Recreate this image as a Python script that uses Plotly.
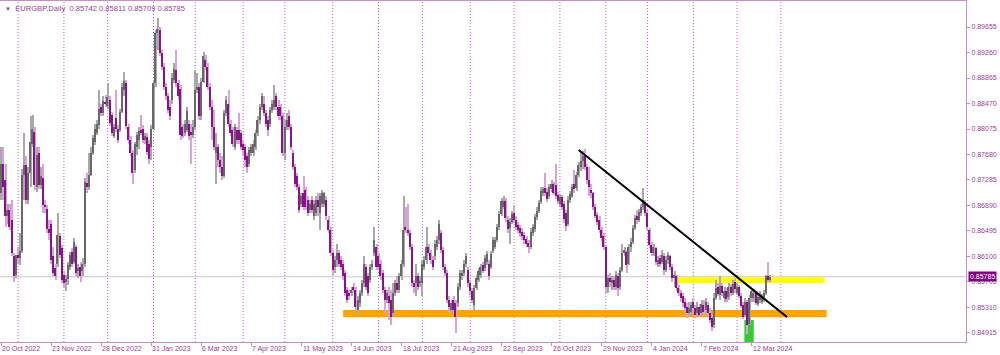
import pandas as pd
import plotly.graph_objects as go

SYMBOL = "EURGBP,Daily"
FIRST_DATE = "2022-10-20"
HOLIDAYS = ["2022-12-26", "2023-12-25", "2024-01-01"]

OPEN = [
.8708,.8754,.8729,.8672,.8682,.8667,.8610,.8582,.8612,.8607,
.8619,.8736,.8752,.8698,.8739,.8785,.8803,.8718,.8770,.8721,
.8731,.8690,.8684,.8652,.8661,.8610,.8592,.8599,.8641,.8623,
.8582,.8570,.8575,.8594,.8617,.8602,.8625,.8587,.8594,.8587,
.8599,.8724,.8718,.8736,.8770,.8788,.8801,.8813,.8841,.8832,
.8850,.8843,.8853,.8829,.8797,.8825,.8808,.8806,.8834,.8868,
.8879,.8811,.8790,.8770,.8744,.8780,.8790,.8806,.8808,.8791,
.8795,.8785,.8780,.8808,.8878,.8956,.8961,.8925,.8904,.8873,
.8858,.8842,.8852,.8883,.8899,.8878,.8870,.8811,.8801,.8806,
.8816,.8803,.8798,.8811,.8868,.8873,.8827,.8880,.8914,.8904,
.8873,.8842,.8811,.8770,.8780,.8760,.8749,.8734,.8832,.8847,
.8816,.8806,.8780,.8806,.8806,.8801,.8785,.8780,.8765,.8754,
.8770,.8770,.8780,.8801,.8821,.8842,.8847,.8832,.8821,.8816,
.8837,.8842,.8858,.8842,.8842,.8827,.8770,.8811,.8827,.8811,
.8770,.8749,.8734,.8718,.8692,.8708,.8713,.8698,.8682,.8698,
.8672,.8677,.8698,.8677,.8692,.8692,.8698,.8667,.8651,.8615,
.8594,.8605,.8615,.8605,.8599,.8584,.8558,.8553,.8553,.8563,
.8558,.8527,.8538,.8553,.8569,.8594,.8579,.8574,.8594,.8615,
.8625,.8610,.8599,.8584,.8558,.8543,.8548,.8543,.8522,.8553,
.8569,.8558,.8579,.8599,.8656,.8651,.8646,.8625,.8569,.8569,
.8579,.8569,.8569,.8594,.8605,.8625,.8615,.8605,.8610,.8625,
.8636,.8646,.8620,.8594,.8584,.8543,.8527,.8543,.8538,.8538,
.8563,.8579,.8584,.8599,.8589,.8569,.8556,.8535,.8561,.8574,
.8582,.8597,.8592,.8602,.8599,.8594,.8619,.8625,.8636,.8655,
.8676,.8687,.8696,.8667,.8654,.8664,.8677,.8667,.8659,.8654,
.8648,.8643,.8637,.8631,.8625,.8646,.8652,.8671,.8681,.8695,
.8709,.8716,.8710,.8703,.8714,.8722,.8721,.8705,.8691,.8702,
.8691,.8677,.8660,.8698,.8704,.8723,.8716,.8736,.8749,.8758,
.8765,.8749,.8729,.8713,.8708,.8687,.8674,.8667,.8651,.8641,
.8625,.8563,.8576,.8569,.8574,.8563,.8579,.8563,.8589,.8615,
.8617,.8599,.8625,.8633,.8654,.8672,.8667,.8677,.8687,.8695,
.8677,.8651,.8628,.8615,.8623,.8599,.8607,.8602,.8610,.8589,
.8605,.8610,.8594,.8576,.8579,.8561,.8553,.8548,.8540,.8532,
.8522,.8524,.8540,.8530,.8522,.8532,.8522,.8535,.8527,.8535,
.8522,.8514,.8504,.8545,.8562,.8550,.8564,.8545,.8557,.8547,
.8563,.8554,.8571,.8554,.8562,.8549,.8535,.8519,.8540,.8506,
.8545,.8545,.8553,.8537,.8543,.8540,.8543,.8553,.8579,.85742]

HIGH = [
.8780,.8780,.8754,.8692,.8692,.8698,.8615,.8612,.8625,.8646,
.8746,.8801,.8765,.8749,.8827,.8829,.8811,.8780,.8780,.8749,
.8754,.8698,.8690,.8667,.8667,.8625,.8599,.8677,.8646,.8628,
.8587,.8582,.8602,.8617,.8623,.8638,.8628,.8599,.8602,.8607,
.8731,.8739,.8770,.8780,.8798,.8816,.8821,.8868,.8847,.8858,
.8860,.8878,.8858,.8834,.8815,.8868,.8813,.8839,.8878,.8896,
.8883,.8816,.8796,.8775,.8788,.8803,.8811,.8829,.8813,.8801,
.8801,.8790,.8813,.8883,.8961,.8979,.8966,.8930,.8909,.8878,
.8863,.8852,.8894,.8909,.8930,.8883,.8875,.8816,.8821,.8842,
.8821,.8816,.8821,.8899,.8894,.8878,.8886,.8927,.8922,.8909,
.8878,.8852,.8837,.8801,.8785,.8770,.8765,.8837,.8858,.8868,
.8821,.8811,.8816,.8811,.8832,.8806,.8790,.8785,.8770,.8780,
.8785,.8790,.8806,.8827,.8847,.8863,.8858,.8837,.8827,.8842,
.8852,.8876,.8863,.8852,.8847,.8832,.8821,.8832,.8837,.8816,
.8775,.8754,.8739,.8723,.8708,.8734,.8718,.8703,.8698,.8703,
.8698,.8703,.8708,.8708,.8713,.8710,.8703,.8672,.8656,.8620,
.8610,.8630,.8620,.8610,.8605,.8589,.8563,.8558,.8563,.8569,
.8563,.8548,.8558,.8574,.8610,.8599,.8584,.8599,.8605,.8656,
.8630,.8615,.8605,.8589,.8563,.8558,.8563,.8558,.8569,.8574,
.8579,.8584,.8605,.8703,.8687,.8692,.8651,.8630,.8574,.8599,
.8584,.8579,.8605,.8610,.8656,.8630,.8620,.8610,.8636,.8641,
.8667,.8651,.8625,.8599,.8589,.8548,.8543,.8548,.8543,.8569,
.8589,.8589,.8605,.8615,.8594,.8574,.8561,.8566,.8582,.8592,
.8599,.8602,.8612,.8619,.8605,.8619,.8640,.8640,.8660,.8681,
.8700,.8704,.8700,.8672,.8669,.8681,.8690,.8672,.8664,.8659,
.8654,.8648,.8641,.8636,.8654,.8660,.8676,.8687,.8698,.8717,
.8718,.8739,.8716,.8722,.8729,.8726,.8754,.8710,.8707,.8705,
.8696,.8682,.8703,.8712,.8722,.8744,.8741,.8757,.8772,.8774,
.8776,.8754,.8749,.8723,.8710,.8692,.8679,.8672,.8656,.8646,
.8628,.8581,.8584,.8579,.8579,.8587,.8584,.8594,.8630,.8625,
.8620,.8630,.8638,.8659,.8674,.8682,.8684,.8692,.8716,.8698,
.8682,.8654,.8633,.8630,.8625,.8610,.8612,.8620,.8615,.8610,
.8617,.8612,.8599,.8587,.8581,.8566,.8558,.8553,.8545,.8538,
.8540,.8540,.8545,.8535,.8540,.8536,.8543,.8543,.8545,.8540,
.8530,.8519,.8553,.8574,.8569,.8579,.8569,.8563,.8561,.8569,
.8567,.8574,.8576,.8569,.8566,.8553,.8540,.8545,.8543,.8550,
.8561,.8559,.8557,.8552,.8556,.8552,.8558,.8581,.8601,.85811]

LOW = [
.8698,.8698,.8656,.8661,.8651,.8610,.8571,.8576,.8599,.8597,
.8615,.8698,.8691,.8692,.8718,.8780,.8713,.8710,.8715,.8715,
.8677,.8677,.8647,.8636,.8599,.8579,.8574,.8594,.8607,.8569,
.8561,.8556,.8566,.8589,.8594,.8599,.8579,.8576,.8571,.8579,
.8594,.8708,.8713,.8734,.8767,.8783,.8798,.8808,.8827,.8828,
.8842,.8839,.8812,.8797,.8793,.8803,.8786,.8803,.8832,.8858,
.8808,.8785,.8766,.8723,.8739,.8767,.8777,.8798,.8786,.8785,
.8767,.8753,.8760,.8806,.8873,.8930,.8920,.8899,.8868,.8852,
.8832,.8821,.8847,.8878,.8873,.8852,.8790,.8793,.8796,.8803,
.8790,.8754,.8793,.8806,.8863,.8821,.8821,.8878,.8899,.8868,
.8837,.8790,.8775,.8723,.8749,.8739,.8729,.8731,.8827,.8811,
.8796,.8780,.8775,.8785,.8785,.8775,.8765,.8749,.8739,.8749,
.8765,.8765,.8775,.8796,.8816,.8837,.8827,.8811,.8796,.8811,
.8832,.8837,.8837,.8821,.8821,.8765,.8760,.8806,.8806,.8775,
.8744,.8718,.8713,.8677,.8687,.8682,.8682,.8672,.8677,.8677,
.8667,.8672,.8672,.8651,.8687,.8687,.8667,.8646,.8610,.8579,
.8584,.8594,.8594,.8589,.8574,.8548,.8538,.8543,.8548,.8553,
.8527,.8519,.8532,.8548,.8563,.8558,.8548,.8569,.8589,.8610,
.8589,.8589,.8574,.8553,.8522,.8538,.8512,.8504,.8517,.8548,
.8553,.8553,.8574,.8594,.8646,.8641,.8620,.8563,.8553,.8548,
.8558,.8563,.8548,.8589,.8599,.8610,.8599,.8589,.8605,.8620,
.8630,.8615,.8589,.8579,.8538,.8524,.8522,.8522,.8491,.8532,
.8558,.8574,.8579,.8594,.8563,.8550,.8538,.8527,.8558,.8570,
.8576,.8584,.8588,.8597,.8573,.8590,.8615,.8621,.8632,.8651,
.8672,.8683,.8664,.8647,.8630,.8661,.8662,.8651,.8646,.8640,
.8636,.8630,.8625,.8615,.8621,.8642,.8648,.8667,.8677,.8692,
.8704,.8703,.8694,.8699,.8710,.8705,.8699,.8691,.8687,.8682,
.8662,.8650,.8657,.8693,.8700,.8709,.8712,.8733,.8743,.8746,
.8744,.8723,.8703,.8700,.8682,.8669,.8659,.8646,.8633,.8620,
.8553,.8553,.8563,.8558,.8558,.8558,.8548,.8558,.8586,.8610,
.8584,.8597,.8617,.8630,.8651,.8661,.8664,.8672,.8682,.8672,
.8651,.8623,.8610,.8610,.8597,.8594,.8594,.8599,.8581,.8586,
.8599,.8589,.8571,.8563,.8556,.8548,.8540,.8532,.8524,.8514,
.8518,.8519,.8524,.8514,.8518,.8516,.8519,.8519,.8522,.8517,
.8507,.8495,.8499,.8543,.8548,.8543,.8548,.8540,.8540,.8543,
.8549,.8550,.8554,.8550,.8545,.8530,.8513,.8517,.8490,.8504,
.8540,.8540,.8535,.8533,.8538,.8537,.8540,.8550,.8571,.85709]

CLOSE = [
.8754,.8718,.8672,.8682,.8656,.8615,.8579,.8612,.8607,.8619,
.8736,.8752,.8698,.8739,.8788,.8808,.8721,.8767,.8721,.8735,
.8690,.8686,.8652,.8646,.8605,.8584,.8579,.8643,.8612,.8574,
.8569,.8575,.8597,.8612,.8599,.8633,.8585,.8592,.8579,.8599,
.8726,.8718,.8736,.8770,.8793,.8808,.8815,.8839,.8832,.8851,
.8847,.8857,.8817,.8802,.8810,.8807,.8791,.8834,.8872,.8882,
.8812,.8790,.8770,.8740,.8784,.8798,.8805,.8802,.8791,.8796,
.8772,.8761,.8808,.8878,.8956,.8963,.8925,.8904,.8873,.8858,
.8837,.8827,.8886,.8901,.8878,.8858,.8798,.8796,.8815,.8836,
.8796,.8798,.8811,.8868,.8873,.8827,.8880,.8920,.8904,.8873,
.8842,.8811,.8780,.8780,.8760,.8749,.8734,.8832,.8852,.8816,
.8801,.8785,.8811,.8790,.8790,.8780,.8775,.8760,.8749,.8775,
.8780,.8785,.8801,.8821,.8842,.8858,.8832,.8816,.8806,.8837,
.8847,.8852,.8842,.8827,.8827,.8770,.8811,.8821,.8811,.8780,
.8749,.8723,.8718,.8682,.8703,.8687,.8687,.8677,.8692,.8682,
.8692,.8698,.8687,.8703,.8708,.8708,.8672,.8651,.8615,.8589,
.8605,.8615,.8599,.8594,.8579,.8553,.8543,.8548,.8558,.8558,
.8532,.8543,.8553,.8569,.8599,.8563,.8553,.8594,.8599,.8636,
.8594,.8594,.8579,.8558,.8543,.8553,.8538,.8517,.8553,.8569,
.8558,.8579,.8599,.8651,.8651,.8646,.8625,.8569,.8563,.8579,
.8563,.8571,.8599,.8605,.8625,.8615,.8605,.8594,.8630,.8636,
.8661,.8620,.8594,.8584,.8543,.8532,.8538,.8527,.8517,.8563,
.8584,.8584,.8599,.8610,.8569,.8556,.8543,.8561,.8576,.8587,
.8594,.8588,.8607,.8614,.8580,.8614,.8635,.8635,.8655,.8676,
.8696,.8696,.8669,.8652,.8664,.8676,.8667,.8656,.8651,.8646,
.8641,.8636,.8630,.8624,.8648,.8655,.8671,.8681,.8693,.8712,
.8714,.8708,.8699,.8717,.8723,.8709,.8704,.8696,.8702,.8687,
.8668,.8657,.8698,.8707,.8717,.8714,.8736,.8752,.8758,.8765,
.8749,.8729,.8718,.8708,.8687,.8672,.8664,.8651,.8638,.8625,
.8563,.8576,.8571,.8574,.8563,.8581,.8561,.8589,.8615,.8620,
.8597,.8625,.8633,.8654,.8669,.8667,.8679,.8686,.8698,.8677,
.8656,.8628,.8615,.8624,.8602,.8605,.8599,.8612,.8589,.8605,
.8612,.8594,.8576,.8581,.8561,.8553,.8545,.8538,.8530,.8522,
.8530,.8535,.8530,.8519,.8532,.8519,.8536,.8524,.8540,.8522,
.8512,.8501,.8545,.8561,.8552,.8564,.8553,.8557,.8544,.8562,
.8554,.8567,.8559,.8562,.8549,.8533,.8517,.8540,.8504,.8545,
.8556,.8553,.8538,.8547,.8551,.8547,.8553,.8579,.8574,.85785]

PRICE_TICKS = [0.84915, 0.85310, 0.85705, 0.86100, 0.86495, 0.86890, 0.87285,
               0.87680, 0.88075, 0.88470, 0.88865, 0.89260, 0.89655]
LAST_PRICE = 0.85785
DATE_LABEL_STEP = 24

SUPPORT_ZONE = {"start": "2023-06-08", "end": "2024-05-01", "low": 0.85158, "high": 0.85271}
RESIST_ZONE = {"start": "2024-01-22", "end": "2024-04-30", "low": 0.85685, "high": 0.85778}
SPIKE_BOX = {"start": "2024-03-06", "end": "2024-03-13", "high": 0.85116}
TRENDLINE = {"start": ("2023-11-14", 0.8775), "end": ("2024-04-04", 0.8516)}

# ---------------------------------------------------------------- styling
TXT = "#993d99"
AXIS = "#c98fc9"
GRID = "#c660c6"
UP_BODY, UP_WICK = "#686868", "#a9a9a9"
DN_BODY, DN_WICK = "#8a128a", "#d8a4d8"
FONT = "Liberation Sans, Arial, sans-serif"
Y_MIN, Y_MAX = 0.84775, 0.90058
X_MIN, X_MAX = -0.67, 462.85
MIN_BODY = 0.00008

n = len(CLOSE)
hol = set(pd.to_datetime(HOLIDAYS))
calendar = [d for d in pd.bdate_range(FIRST_DATE, "2024-12-31") if d not in hol]
pos = {d: i for i, d in enumerate(calendar)}


def xi(s):
    return pos[pd.Timestamp(s)]


dates = calendar[:n]
xs = list(range(n))

fig = go.Figure()

for is_up, body_c, wick_c in ((True, UP_BODY, UP_WICK), (False, DN_BODY, DN_WICK)):
    sel = [i for i in xs if (CLOSE[i] >= OPEN[i]) == is_up]
    fig.add_trace(go.Bar(
        x=sel, base=[LOW[i] for i in sel], y=[HIGH[i] - LOW[i] for i in sel],
        width=0.5, marker=dict(color=wick_c, line=dict(width=0)),
        hoverinfo="skip", showlegend=False))
for is_up, body_c, wick_c in ((True, UP_BODY, UP_WICK), (False, DN_BODY, DN_WICK)):
    sel = [i for i in xs if (CLOSE[i] >= OPEN[i]) == is_up]
    fig.add_trace(go.Bar(
        x=sel, base=[min(OPEN[i], CLOSE[i]) for i in sel],
        y=[max(abs(CLOSE[i] - OPEN[i]), MIN_BODY) for i in sel],
        width=0.72, marker=dict(color=body_c, line=dict(width=0)),
        hoverinfo="skip", showlegend=False))

# trendline
fig.add_trace(go.Scatter(
    x=[xi(TRENDLINE["start"][0]), xi(TRENDLINE["end"][0])],
    y=[TRENDLINE["start"][1], TRENDLINE["end"][1]],
    mode="lines", line=dict(color="black", width=2),
    hoverinfo="skip", showlegend=False))

shapes = []
# month separators
for i in range(1, len(calendar)):
    if calendar[i].month != calendar[i - 1].month and i <= n + 8:
        shapes.append(dict(type="line", xref="x", yref="paper", x0=i, x1=i, y0=0, y1=1,
                           line=dict(color=GRID, width=1, dash="1px,2px"), layer="below"))
# zones
shapes.append(dict(type="rect", xref="x", yref="y",
                   x0=xi(SUPPORT_ZONE["start"]), x1=xi(SUPPORT_ZONE["end"]),
                   y0=SUPPORT_ZONE["low"], y1=SUPPORT_ZONE["high"],
                   fillcolor="#ffa500", line=dict(width=0), layer="below"))
shapes.append(dict(type="rect", xref="x", yref="y",
                   x0=xi(RESIST_ZONE["start"]), x1=xi(RESIST_ZONE["end"]),
                   y0=RESIST_ZONE["low"], y1=RESIST_ZONE["high"],
                   fillcolor="#ffff00", line=dict(width=0), layer="below"))
shapes.append(dict(type="rect", xref="x", yref="y",
                   x0=xi(SPIKE_BOX["start"]) + 0.5, x1=xi(SPIKE_BOX["end"]),
                   y0=Y_MIN, y1=SPIKE_BOX["high"],
                   fillcolor="#33cc33", line=dict(width=0), layer="below"))
# last price line
shapes.append(dict(type="line", xref="paper", yref="y", x0=0, x1=1,
                   y0=LAST_PRICE, y1=LAST_PRICE,
                   line=dict(color="#c8c8c8", width=1), layer="below"))

annotations = []
label_idx = list(range(0, n, DATE_LABEL_STEP))
for i in label_idx:
    d = dates[i]
    annotations.append(dict(
        x=i, y=0, xref="x", yref="paper", xanchor="left", yanchor="top",
        yshift=-1, xshift=-1, showarrow=False,
        text=f"{d.day} {d.strftime('%b %Y')}", font=dict(size=7, color=TXT, family=FONT)))

annotations.append(dict(
    x=1, y=LAST_PRICE, xref="paper", yref="y", xanchor="left", yanchor="middle",
    xshift=2, showarrow=False, text=f"{LAST_PRICE:.5f}", bgcolor="#800080",
    borderpad=1, font=dict(size=7, color="white", family=FONT)))

header = (f"<span style='font-size:6px'>\u25bc</span>\u00a0\u00a0{SYMBOL}\u00a0\u00a0"
          f"{OPEN[-1]:.5f} {HIGH[-1]:.5f} {LOW[-1]:.5f} {CLOSE[-1]:.5f}")
annotations.append(dict(
    x=0, y=1, xref="paper", yref="paper", xanchor="left", yanchor="top",
    xshift=3, yshift=-1, showarrow=False, text=header,
    font=dict(size=7.6, color=TXT, family=FONT)))

fig.update_layout(
    width=1000, height=355, autosize=False,
    margin=dict(l=0, r=34, t=1, b=13),
    paper_bgcolor="white", plot_bgcolor="white",
    barmode="overlay", bargap=0, hovermode=False,
    shapes=shapes, annotations=annotations,
    xaxis=dict(range=[X_MIN, X_MAX], showgrid=False, zeroline=False,
               showline=True, linecolor=AXIS, linewidth=1, mirror=True,
               ticks="outside", ticklen=3, tickcolor=AXIS,
               tickvals=label_idx, ticktext=[""] * len(label_idx), fixedrange=True),
    yaxis=dict(range=[Y_MIN, Y_MAX], side="right", showgrid=False, zeroline=False,
               showline=True, linecolor=AXIS, linewidth=1, mirror=True,
               ticks="outside", ticklen=3, tickcolor=AXIS,
               tickvals=PRICE_TICKS, ticktext=[f"{v:.5f}" for v in PRICE_TICKS],
               tickfont=dict(size=7, color=TXT, family=FONT), fixedrange=True),
)

fig.write_html("out.html", config={"displayModeBar": False},
               post_script="document.body.style.margin='0';document.body.style.overflow='hidden';")
